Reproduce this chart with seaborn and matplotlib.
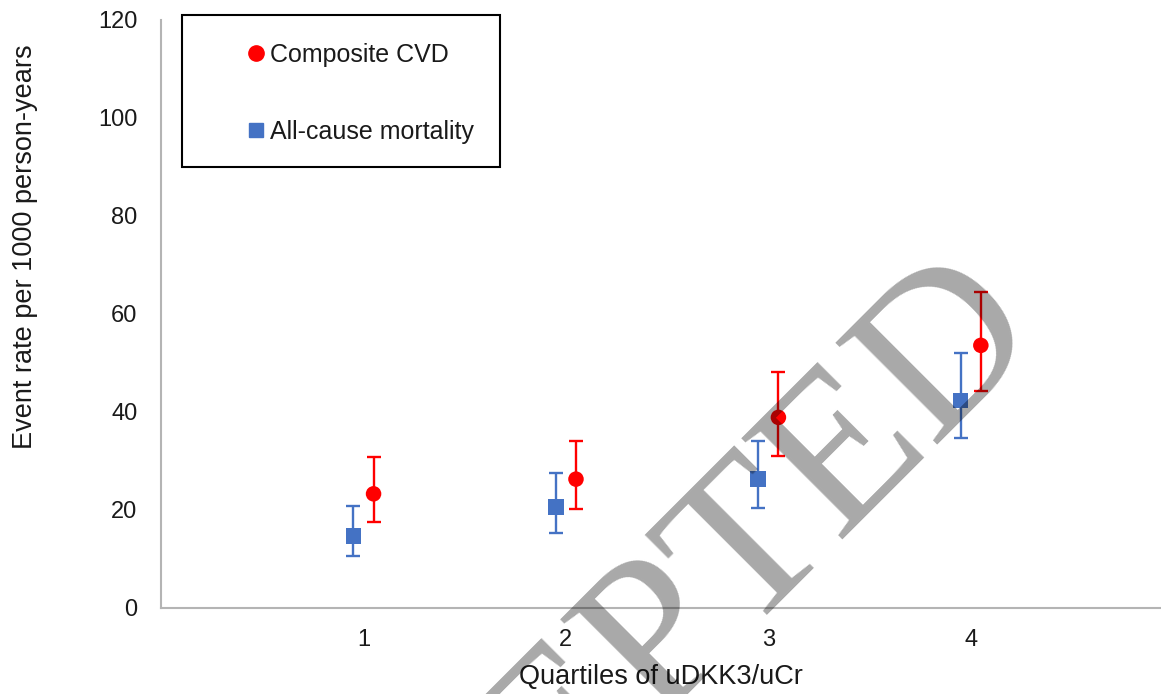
import matplotlib
matplotlib.use("Agg")
import matplotlib.pyplot as plt
from matplotlib.lines import Line2D
from matplotlib.patches import Rectangle
import numpy as np
import pandas as pd
import seaborn as sns

# ---- data ----
quartiles = [1, 2, 3, 4]
tick_labels = ["1", "2", "3", "4"]
cvd_rate = [23.3, 26.3, 38.9, 53.6]
cvd_lo = [17.6, 20.3, 31.1, 44.3]
cvd_hi = [30.8, 34.1, 48.2, 64.5]
mort_rate = [14.7, 20.6, 26.3, 42.3]
mort_lo = [10.6, 15.3, 20.5, 34.7]
mort_hi = [20.8, 27.6, 34.0, 52.0]
series_names = ["Composite CVD", "All-cause mortality"]

RED = "#FF0000"
BLUE = "#4472C4"

sns.set_theme(style="white")
plt.rcParams["font.family"] = ["Liberation Sans", "DejaVu Sans"]

W, H = 1161, 694
fig = plt.figure(figsize=(W / 100, H / 100), dpi=100)
ax = fig.add_axes([161 / W, 1 - 608 / H, 1000 / W, 588 / H])

offset = {"Composite CVD": 0.05, "All-cause mortality": -0.05}
df = pd.DataFrame({
    "quartile": quartiles * 2,
    "series": [series_names[0]] * 4 + [series_names[1]] * 4,
    "rate": cvd_rate + mort_rate,
    "lo": cvd_lo + mort_lo,
    "hi": cvd_hi + mort_hi,
})
df["xpos"] = df["quartile"] + df["series"].map(offset)

palette = {"Composite CVD": RED, "All-cause mortality": BLUE}
for name, g in df.groupby("series"):
    ax.errorbar(g["xpos"], g["rate"],
                yerr=[g["rate"] - g["lo"], g["hi"] - g["rate"]],
                fmt="none", ecolor=palette[name], elinewidth=1.7,
                capsize=5, capthick=1.7, zorder=2)

sns.scatterplot(data=df, x="xpos", y="rate", hue="series", style="series",
                palette=palette,
                markers={"Composite CVD": "o", "All-cause mortality": "s"},
                s=125, linewidth=0, legend=False, ax=ax, zorder=3)

ax.set_xlim(0, 4.94)
ax.set_ylim(0, 120)
ax.set_xticks(quartiles)
ax.set_xticklabels(tick_labels)
ax.set_yticks(np.arange(0, 121, 20))
ax.tick_params(axis="both", length=0, labelsize=17, colors="#1a1a1a")
ax.tick_params(axis="y", pad=17)
ax.tick_params(axis="x", pad=15)
for s in ["top", "right"]:
    ax.spines[s].set_visible(False)
for s in ["left", "bottom"]:
    ax.spines[s].set_color("#b4b4b4")
    ax.spines[s].set_linewidth(1.5)

ax.set_xlabel("Quartiles of uDKK3/uCr", fontsize=19.5, color="#1a1a1a")
ax.set_ylabel("Event rate per 1000 person-years", fontsize=19.5, color="#1a1a1a")
ax.xaxis.set_label_coords(0.5, -(677 - 608) / 588)
ax.yaxis.set_label_coords((25 - 161) / 1000, (608 - 247) / 588)
ax.xaxis.label.set_va("center")
ax.yaxis.label.set_va("center")

# legend box
fig.patches.append(Rectangle((182 / W, 1 - 167 / H), (500 - 182) / W, (167 - 15) / H,
                             transform=fig.transFigure, fill=False,
                             edgecolor="black", linewidth=1.5, zorder=5))
handles = [
    Line2D([], [], marker="o", linestyle="none", color=RED, markersize=11),
    Line2D([], [], marker="s", linestyle="none", color=BLUE, markersize=10.5),
]
fig.legend(handles, series_names, loc="upper left",
           bbox_to_anchor=(248 / W, 1 - 43 / H), bbox_transform=fig.transFigure,
           frameon=False, fontsize=18, borderpad=0, borderaxespad=0,
           handlelength=0.64, handletextpad=0.25, labelspacing=2.12,
           labelcolor="#1a1a1a")

# watermark
fig.text(1045 / W, 1 - 335 / H, "ACCEPTED", rotation=45, rotation_mode="anchor",
         ha="right", va="baseline", fontsize=158,
         family=["Liberation Serif", "DejaVu Serif"],
         color="black", alpha=0.34, zorder=10)

fig.savefig("out.png", dpi=100)
